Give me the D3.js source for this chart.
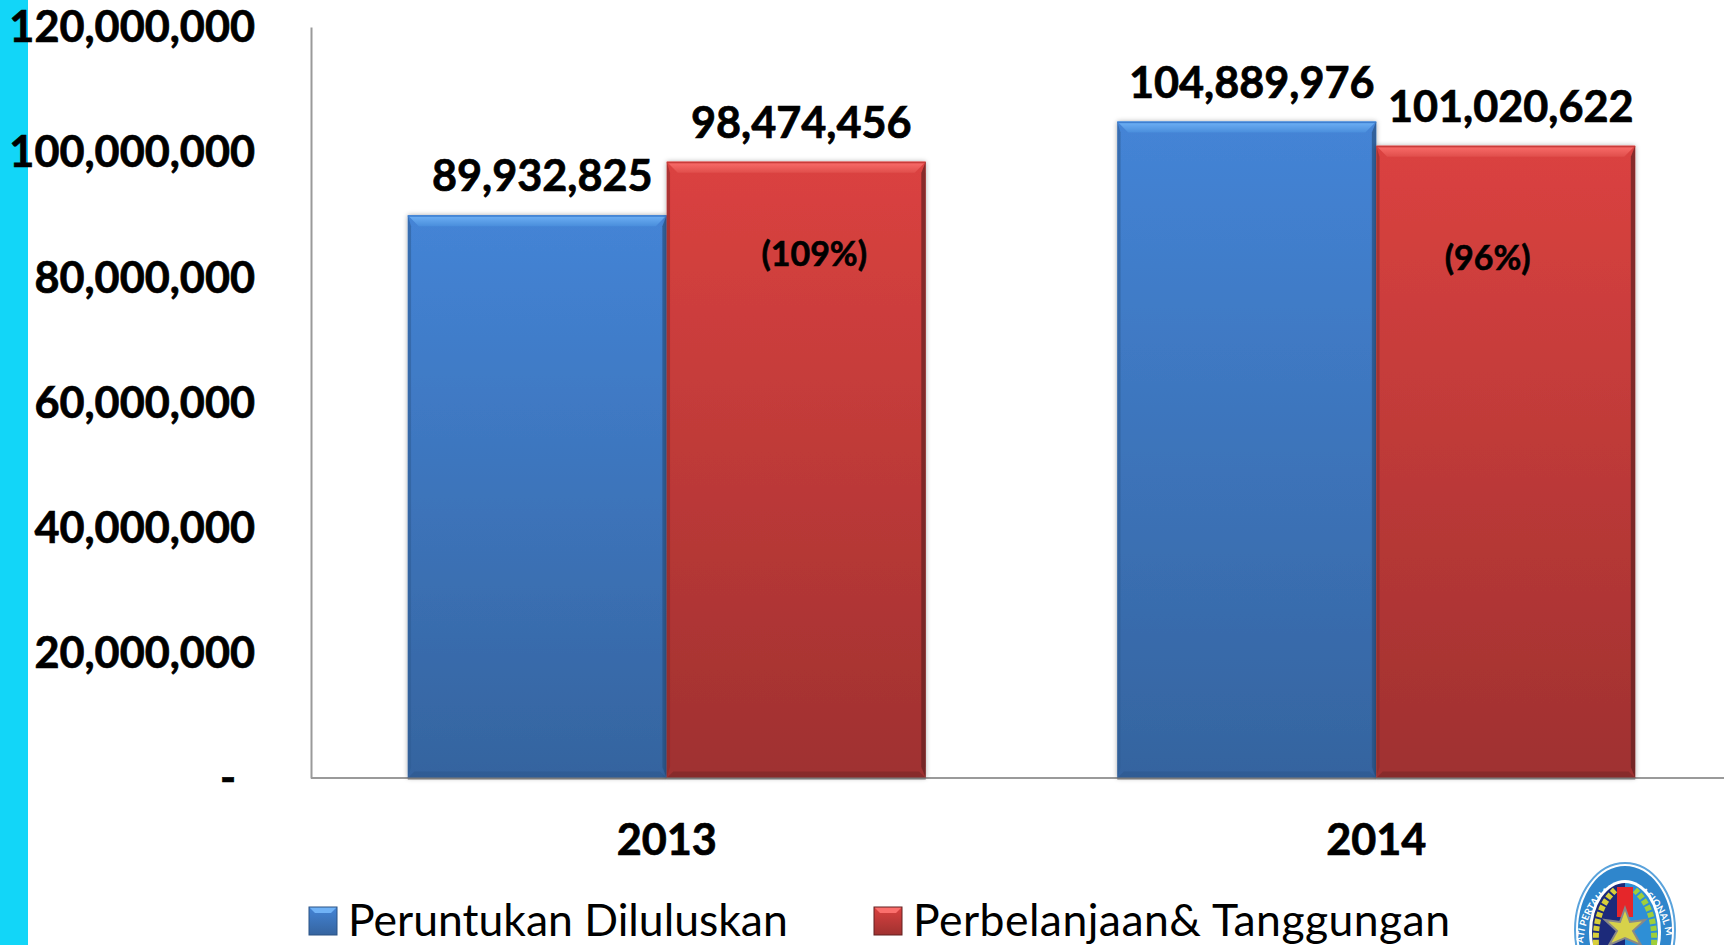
<!DOCTYPE html>
<html><head><meta charset="utf-8">
<script src="https://cdn.jsdelivr.net/npm/d3@7/dist/d3.min.js"></script>
<style>html,body{margin:0;padding:0;background:#fff;overflow:hidden}svg{display:block}text{font-family:Lato,"Open Sans",sans-serif;fill:#000}</style>
</head><body><svg id="c" width="1724" height="945"></svg>
<script>
const years = ["2013","2014"];
const seriesNames = ["Peruntukan Diluluskan","Perbelanjaan& Tanggungan"];
const allocated = [89932825,104889976];
const spending = [98474456,101020622];
const percentLabels = ["(109%)","(96%)"];
const yTicks = [0,20000000,40000000,60000000,80000000,100000000,120000000];

const W=1724,H=945,x0=311,yB=778,yT=27;
const svg=d3.select("#c");
const defs=svg.append("defs");
const palette=[
 {id:"b",top:"#4484d6",bot:"#35649f",hi:"#70b2f6",hiLow:"#4a8edc",hiEdge:"#3f7fd0",dark:"#2b5384",bev:"#2f5c94"},
 {id:"r",top:"#db4240",bot:"#9f3130",hi:"#fb6f6c",hiLow:"#e04e4b",hiEdge:"#c93c3a",dark:"#632020",bev:"#8a2b2a"}];
palette.forEach(p=>{
 const g=defs.append("linearGradient").attr("id","g"+p.id).attr("x1",0).attr("x2",0).attr("y1",0).attr("y2",1);
 g.append("stop").attr("offset",0).attr("stop-color",p.top);
 g.append("stop").attr("offset",1).attr("stop-color",p.bot);
 const t=defs.append("linearGradient").attr("id","t"+p.id).attr("x1",0).attr("x2",0).attr("y1",0).attr("y2",1);
 t.append("stop").attr("offset",0).attr("stop-color",p.hi);
 t.append("stop").attr("offset",1).attr("stop-color",p.hiLow);
});
const f=defs.append("filter").attr("id","sh").attr("x","-5%").attr("y","-5%").attr("width","110%").attr("height","110%");
f.append("feDropShadow").attr("dx",0).attr("dy",0).attr("stdDeviation",2.5).attr("flood-color","#000").attr("flood-opacity",.35);
const bl=defs.append("filter").attr("id","bl").attr("x","-20%").attr("y","-20%").attr("width","140%").attr("height","140%");
bl.append("feGaussianBlur").attr("stdDeviation",.7);

svg.append("rect").attr("x",0).attr("y",0).attr("width",28).attr("height",H).attr("fill","#12d6f8");

const x=d3.scaleBand().domain(years).range([x0+1,1731]).paddingInner(.27).paddingOuter(.135);
const xs=d3.scaleBand().domain([0,1]).range([0,x.bandwidth()]);
const y=d3.scaleLinear().domain([0,120000000]).range([yB,yT]);

const mainFont=43.2;
const bold=s=>s.attr("font-size",mainFont).attr("font-weight",700).attr("stroke","#000").attr("stroke-width",.7).style("font-family","Lato");
const fmt=d3.format(",");
const axL=svg.append("g").attr("transform",`translate(${x0},0)`)
 .call(d3.axisLeft(y).tickValues(yTicks).tickSize(0).tickPadding(56).tickFormat(d=>d===0?"-":fmt(d)));
axL.select(".domain").attr("stroke","#9a9a9a").attr("stroke-width",2);
axL.selectAll("text").call(bold).attr("dy","0.34em").attr("dx",d=>d===0?-19:0);
const axB=svg.append("g").attr("transform",`translate(0,${yB})`)
 .call(d3.axisBottom(x).tickSize(0).tickPadding(46));
axB.select(".domain").attr("d",`M${x0},0H${W}`).attr("stroke","#9a9a9a").attr("stroke-width",2);
axB.selectAll("text").call(bold);

function bar(g,px,py,w,h,p,e){
 g.append("rect").attr("x",px).attr("y",py).attr("width",w).attr("height",h).attr("fill",`url(#g${p.id})`).attr("filter","url(#sh)");
 const poly=(pts,fill)=>g.append("polygon").attr("points",pts.map(q=>q.join(",")).join(" ")).attr("fill",fill);
 poly([[px,py],[px+w,py],[px+w-e,py+e],[px+e,py+e]],`url(#t${p.id})`);
 g.append("rect").attr("x",px).attr("y",py).attr("width",w).attr("height",1.6).attr("fill",p.hiEdge);
 poly([[px,py],[px+e*.3,py+e],[px+e*.3,py+h-e],[px,py+h]],p.bev).attr("opacity",.55).attr("filter","url(#bl)");
 poly([[px+w,py],[px+w-e*.4,py+e],[px+w-e*.4,py+h-e],[px+w,py+h]],p.dark).attr("opacity",.7).attr("filter","url(#bl)");
 poly([[px,py+h],[px+w,py+h],[px+w-e*.6,py+h-e*.6],[px+e*.6,py+h-e*.6]],p.dark).attr("opacity",.4);
 g.append("rect").attr("x",px).attr("y",py+h-.5).attr("width",w).attr("height",2).attr("fill","#7b7b7b");
}
[allocated,spending].forEach((vals,s)=>{
 vals.forEach((v,i)=>{
  bar(svg.append("g"),x(years[i])+xs(s),y(v),xs.bandwidth(),yB-y(v),palette[s],11);
 });
});
[allocated,spending].forEach((vals,s)=>{
 vals.forEach((v,i)=>{
  svg.append("text").attr("x",x(years[i])+xs(s)+xs.bandwidth()/2+5).attr("y",y(v)-24)
   .attr("text-anchor","middle").call(bold).text(fmt(v));
 });
});
const pctShift=[[18,92],[-18,112]];
percentLabels.forEach((t,i)=>{
 svg.append("text").attr("x",x(years[i])+xs(1)+xs.bandwidth()/2+pctShift[i][0]).attr("y",y(spending[i])+pctShift[i][1]+12)
  .attr("text-anchor","middle").attr("font-size",34).attr("font-weight",700).attr("stroke","#000").attr("stroke-width",.6).text(t);
});
const lg=[[309,348],[874,913]], lgSpacing=[0,.45];
seriesNames.forEach((n,i)=>{
 const p=palette[i],g=svg.append("g"),lx=lg[i][0],ly=907,s=28,b=6;
 g.append("rect").attr("x",lx).attr("y",ly).attr("width",s).attr("height",s).attr("fill",`url(#g${p.id})`);
 g.append("polygon").attr("points",`${lx},${ly} ${lx+s},${ly} ${lx+s-b},${ly+b} ${lx+b},${ly+b}`).attr("fill",p.hi);
 g.append("rect").attr("x",lx).attr("y",ly).attr("width",s).attr("height",s).attr("fill","none").attr("stroke",p.dark).attr("stroke-width",1);
 g.append("text").attr("x",lg[i][1]).attr("y",936).attr("font-size",44.5).attr("letter-spacing",lgSpacing[i]).text(n);
});
// emblem
const cx=1625,cy=930,rx=50,ry=67;
const e=svg.append("g");
defs.append("path").attr("id","arc").attr("d",`M${cx-rx+8},${cy+18} A${rx-8},${ry-8} 0 1 1 ${cx+rx-8},${cy+18}`);
e.append("ellipse").attr("cx",cx).attr("cy",cy).attr("rx",rx).attr("ry",ry).attr("fill","#fff").attr("stroke","#5aa3dc").attr("stroke-width",2);
e.append("ellipse").attr("cx",cx).attr("cy",cy).attr("rx",rx-3).attr("ry",ry-3).attr("fill","#2f86cc");
e.append("text").attr("font-size",9.5).attr("font-weight",700).style("fill","#fff").append("textPath").attr("href","#arc").attr("startOffset","3%").text("ATI PERTAHANAN NASIONAL M");
e.append("ellipse").attr("cx",cx).attr("cy",cy+2).attr("rx",rx-14).attr("ry",ry-15).attr("fill","#fff");
const ic=defs.append("clipPath").attr("id","inner");
ic.append("ellipse").attr("cx",cx).attr("cy",cy+2).attr("rx",rx-17).attr("ry",ry-18);
const inn=e.append("g").attr("clip-path","url(#inner)");
inn.append("rect").attr("x",cx-40).attr("y",cy-60).attr("width",40).attr("height",120).attr("fill","#1c2a7a");
inn.append("rect").attr("x",cx).attr("y",cy-60).attr("width",40).attr("height",120).attr("fill","#2e8fd6");
e.append("path").attr("d",`M${cx-29},${cy+15} Q${cx-31},${cy-20} ${cx-10},${cy-40}`).attr("fill","none").attr("stroke","#d8cf3a").attr("stroke-width",6).attr("stroke-dasharray","5 2");
e.append("path").attr("d",`M${cx+29},${cy+15} Q${cx+31},${cy-20} ${cx+10},${cy-40}`).attr("fill","none").attr("stroke","#9fcf3a").attr("stroke-width",6).attr("stroke-dasharray","5 2");
e.append("rect").attr("x",cx-8).attr("y",cy-43).attr("width",16).attr("height",30).attr("fill","#e5262a");
e.append("path").attr("d",`M${cx},${cy-22} L${cx+5},${cy-8} L${cx+20},${cy-10} L${cx+8},${cy+1} L${cx+16},${cy+15} L${cx},${cy+8} L${cx-16},${cy+15} L${cx-8},${cy+1} L${cx-20},${cy-10} L${cx-5},${cy-8}Z`).attr("fill","#d7d24a").attr("stroke","#888").attr("stroke-width",2);
</script></body></html>
